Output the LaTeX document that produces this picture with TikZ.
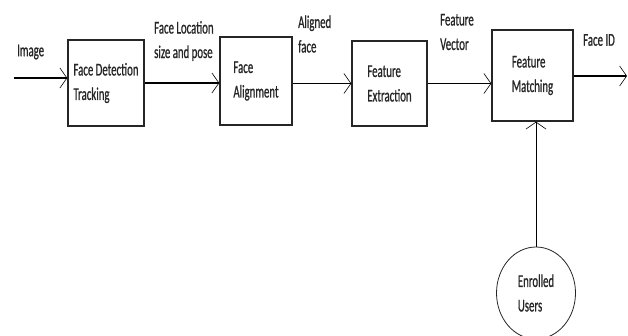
\documentclass[tikz,border=0pt]{standalone}
\usepackage{fontspec}
\setmainfont{Carlito}[FakeStretch=0.6,FakeBold=0.8]
\usetikzlibrary{arrows.meta,shapes.geometric}

\tikzset{
  block/.style={draw=black!85, line width=1.4pt, align=left},
  label/.style={align=left, anchor=west, inner sep=0pt},
  flow/.style={line width=1.3pt, -{Straight Barb[length=7pt,width=20pt,line width=0.6pt]}}
}

\begin{document}
\begin{tikzpicture}[x=1pt,y=-1pt, font=\fontsize{18}{24.5}\selectfont, text=black!85]
		\useasboundingbox (0,0) rectangle (628,335);
		% blocks
		\node[block, minimum width=76pt, minimum height=86pt] (detect) at (106,83) {Face Detection\\Tracking};
		\node[block, minimum width=72pt, minimum height=88pt] (align) at (256,81) {Face\\Alignment};
		\node[block, minimum width=75pt, minimum height=85pt] (extract) at (389.5,83.5) {Feature\\Extraction};
		\node[block, minimum width=81pt, minimum height=91pt] (match) at (532.5,75.5) {Feature\\Matching};
		\node[draw=black!85, line width=0.8pt, ellipse, minimum width=79pt, minimum height=92pt, align=left] (enrolled) at (536,293) {Enrolled\\Users};
		% free ends
		\coordinate (in) at (14,78);
		\coordinate (out) at (627,76);
		% connectors
		\draw[flow] (in) -- (in -| detect.west);
		\draw[flow] (detect.east) -- (detect.east -| align.west);
		\draw[flow] (align.east |- extract.west) -- (extract.west);
		\draw[flow] (extract.east) -- (extract.east -| match.west);
		\draw[flow] (match.east |- out) -- (out);
		\draw[flow, line width=0.9pt] (enrolled.north) -- (enrolled.north |- match.south);
		% labels
		\node[label] (limage) at (17,52) {Image};
		\node[label] (lloc) at (154,41) {Face Location\\size and pose};
		\node[label] (laligned) at (298,34) {Aligned\\face};
		\node[label] (lvector) at (440,32) {Feature\\Vector};
		\node[label] (lid) at (583,40) {Face ID};
\end{tikzpicture}
\end{document}
